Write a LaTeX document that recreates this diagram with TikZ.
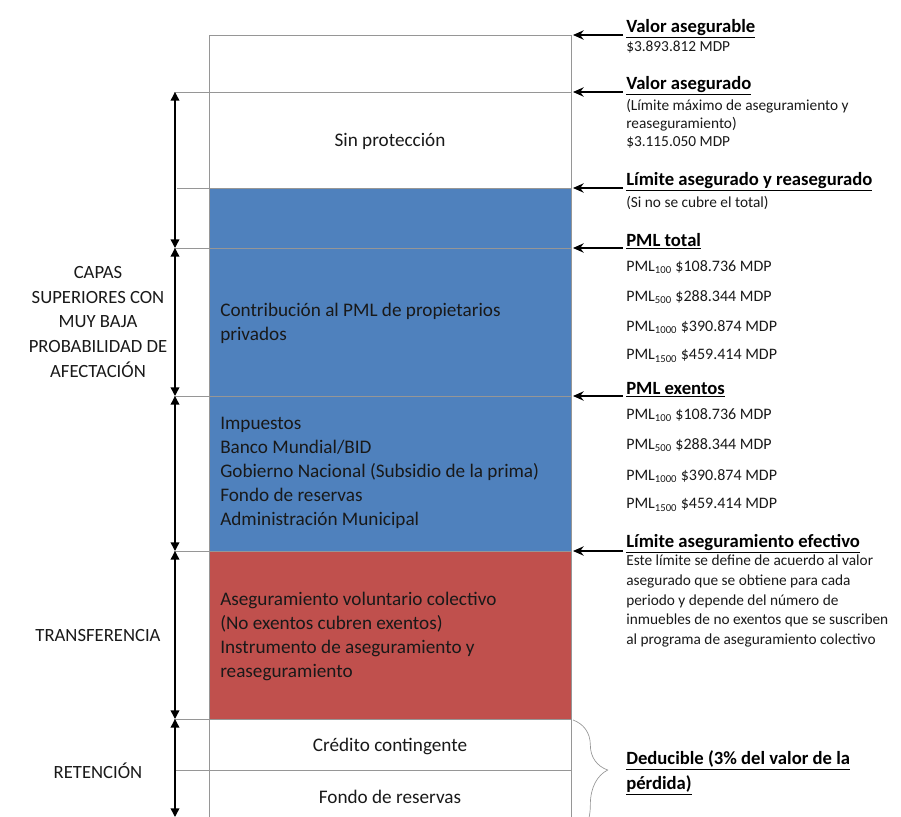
\documentclass[tikz,border=0pt]{standalone}
\usepackage{fontspec}
\setmainfont{Carlito}
\usetikzlibrary{arrows.meta, positioning, decorations.pathreplacing}
\definecolor{bandblue}{RGB}{79, 129, 189}
\definecolor{bandred}{RGB}{192, 80, 77}
\definecolor{rulegray}{RGB}{150, 150, 150}
\definecolor{inktext}{RGB}{25, 25, 25}

\tikzset{
  rule/.style={draw=rulegray, line width=0.5pt},
  levelarrow/.style={-{Stealth[length=8pt, width=7pt]}, line width=1.1pt, black},
  spanarrow/.style={{Triangle[length=6.5pt, width=6.5pt]}-{Triangle[length=6.5pt, width=6.5pt]}, line width=1.1pt, black},
  bandtext/.style={anchor=west, inner sep=0pt, align=left, text=inktext, font=\fontsize{14.4}{18}\selectfont},
  midtext/.style={inner sep=0pt, text=inktext, font=\fontsize{14.4}{18}\selectfont},
  sidetext/.style={inner sep=0pt, align=center, text=inktext, font=\fontsize{14}{18.5}\selectfont},
  head/.style={anchor=west, inner sep=0pt, text=black, font=\bfseries\fontsize{14}{18.75}\selectfont},
  note/.style={anchor=west, inner sep=0pt, align=left, text=inktext, font=\fontsize{11.5}{14.8}\selectfont},
  pml/.style={anchor=west, inner sep=0pt, text=inktext, font=\fontsize{12}{14}\selectfont}
}
\newcommand{\headline}[1]{\underline{#1}}

\begin{document}
\begin{tikzpicture}[x=0.75pt, y=-0.75pt]
  \useasboundingbox (0,0) rectangle (901,817);

  % Bands
  \fill[bandblue] (209,188) rectangle (571,551);
  \fill[bandred] (209,551) rectangle (571,719);
  \draw[rule] (209,817) -- (209,35) -- (571,35) -- (571,817);
  \foreach \yy/\xx in {92/174, 188/177, 248/174, 396/174, 551/174, 719/174, 770/175}
    \draw[rule] (\xx,\yy) -- (571,\yy);

  % Level points on the column
  \coordinate (lv0) at (573,35);
  \coordinate (lv1) at (573,92);
  \coordinate (lv2) at (573,188);
  \coordinate (lv3) at (573,248);
  \coordinate (lv4) at (573,396);
  \coordinate (lv5) at (573,551);

  % Left span points
  \coordinate (sp0) at (175,92);
  \coordinate (sp1) at (175,248);
  \coordinate (sp2) at (175,396);
  \coordinate (sp3) at (175,551);
  \coordinate (sp4) at (175,719);
  \coordinate (sp5) at (175,817);

  \draw[spanarrow] (sp0) -- (sp1);
  \draw[spanarrow] (sp1) -- (sp2);
  \draw[spanarrow] (sp2) -- (sp3);
  \draw[spanarrow] (sp3) -- (sp4);
  \draw[spanarrow] (sp4) -- (sp5);

  % Texts inside the column
  \node[midtext] (sinprot) at (390,141) {Sin protección};
  \node[bandtext] (contrib) at (220,323) {Contribución al PML de propietarios\\privados};
  \node[bandtext] (exentos) at (220,473) {Impuestos\\Banco Mundial/BID\\Gobierno Nacional (Subsidio de la prima)\\Fondo de reservas\\Administración Municipal};
  \node[bandtext] (transf) at (220,636) {Aseguramiento voluntario colectivo\\(No exentos cubren exentos)\\Instrumento de aseguramiento y\\reaseguramiento};
  \node[midtext] (credito) at (390,746) {Crédito contingente};
  \node[midtext] (fondo) at (390,797) {Fondo de reservas};

  % Left labels
  \node[sidetext] (capas) at (98,322) {CAPAS\\SUPERIORES CON\\MUY BAJA\\PROBABILIDAD DE\\AFECTACIÓN};
  \node[sidetext] (transfer) at (98,636) {TRANSFERENCIA};
  \node[sidetext] (retencion) at (98,771) {RETENCIÓN};

  % Right labels
  \node[head] (asegurable) at (626,29) {\headline{Valor asegurable}};
  \node[note] (asegurablev) at (626,47) {\$3.893.812 MDP};
  \node[head] (asegurado) at (626,86) {\headline{Valor asegurado}};
  \node[note, font=\fontsize{11.5}{13.5}\selectfont] (aseguradov) at (626,124) {(Límite máximo de aseguramiento y\\reaseguramiento)\\\$3.115.050 MDP};
  \node[head] (limite) at (626,182) {\headline{Límite asegurado y reasegurado}};
  \node[note] (limitev) at (626,203) {(Si no se cubre el total)};
  \node[head] (pmltotal) at (626,241) {\headline{PML total}};
  \node[pml] (tot100) at (626,267) {PML\textsubscript{100} \$108.736 MDP};
  \node[pml] (tot500) at (626,297) {PML\textsubscript{500} \$288.344 MDP};
  \node[pml] (tot1000) at (626,327) {PML\textsubscript{1000} \$390.874 MDP};
  \node[pml] (tot1500) at (626,356) {PML\textsubscript{1500} \$459.414 MDP};
  \node[head] (pmlexentos) at (626,390) {\headline{PML exentos}};
  \node[pml] (ex100) at (626,415) {PML\textsubscript{100} \$108.736 MDP};
  \node[pml] (ex500) at (626,445) {PML\textsubscript{500} \$288.344 MDP};
  \node[pml] (ex1000) at (626,476) {PML\textsubscript{1000} \$390.874 MDP};
  \node[pml] (ex1500) at (626,505) {PML\textsubscript{1500} \$459.414 MDP};
  \node[head] (efectivo) at (626,544) {\headline{Límite aseguramiento efectivo}};
  \node[note] (efectivov) at (626,601) {Este límite se define de acuerdo al valor\\asegurado que se obtiene para cada\\periodo y depende del número de\\inmuebles de no exentos que se suscriben\\al programa de aseguramiento colectivo};
  \node[head, align=left] (deducible) at (626,773) {\headline{Deducible (3\% del valor de la}\\\headline{pérdida)}};

  % Arrows to the levels
  \coordinate (st0) at (623,35);
  \coordinate (st1) at (623,92);
  \coordinate (st2) at (623,188);
  \coordinate (st3) at (623,248);
  \coordinate (st4) at (623,396);
  \coordinate (st5) at (623,551);
  \draw[levelarrow] (st0) -- (lv0);
  \draw[levelarrow] (st1) -- (lv1);
  \draw[levelarrow] (st2) -- (lv2);
  \draw[levelarrow] (st3) -- (lv3);
  \draw[levelarrow] (st4) -- (lv4);
  \draw[levelarrow] (st5) -- (lv5);

  % Brace for the deductible
  \coordinate (brtop) at (573,720);
  \coordinate (brbot) at (573,840);
  \draw[rule, decorate, decoration={brace, amplitude=26pt, aspect=0.417}] (brtop) -- (brbot);
\end{tikzpicture}
\end{document}
